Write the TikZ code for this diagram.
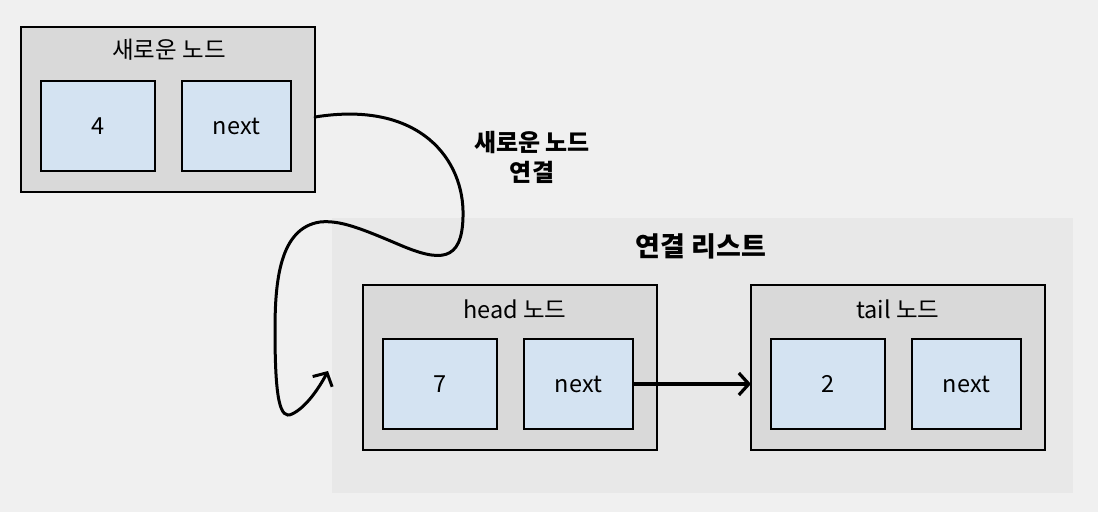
\documentclass[tikz,border=0pt]{standalone}
\usepackage{fontspec}
\setmainfont{Noto Sans CJK KR}
\usetikzlibrary{arrows.meta}
\definecolor{bg}{HTML}{F0F0F0}
\definecolor{panel}{HTML}{E8E8E8}
\definecolor{nodegray}{HTML}{D9D9D9}
\definecolor{cellblue}{HTML}{D4E3F2}
\tikzset{
  outerbox/.style={draw=black, line width=2pt, fill=nodegray},
  cellbox/.style={draw=black, line width=2pt, fill=cellblue, font=\fontsize{23.5}{27}\selectfont},
  titletxt/.style={font=\fontsize{23.5}{27}\selectfont, anchor=center},
  boldtxt/.style={font=\fontsize{24}{30}\selectfont\bfseries, align=center},
  bigbold/.style={font=\fontsize{27}{32}\selectfont\bfseries},
  link/.style={line width=3.5pt, -{Straight Barb[length=10pt, width=22pt, line width=3.2pt]}}
}
\begin{document}
\begin{tikzpicture}[x=1pt, y=-1pt]
\useasboundingbox (0,0) rectangle (1098,512);
\fill[bg] (0,0) rectangle (1098,512);
% linked list panel
\fill[panel] (332,218) rectangle (1073,493);
\node[bigbold] (ltitle) at (701,246) {연결 리스트};
% new node
\draw[outerbox] (21,27) rectangle (315,192);
\coordinate (nnright) at (315,117);
\node[titletxt] (nntitle) at (169,50) {새로운 노드};
\draw[cellbox] (41,81) rectangle (155,171) node[midway] (nnval) {4};
\draw[cellbox] (182,81) rectangle (291,171) node[midway] (nnnext) {next};
% head node
\draw[outerbox] (363,285) rectangle (657,450);
\node[titletxt] (htitle) at (515,309) {head 노드};
\draw[cellbox] (383,339) rectangle (497,429) node[midway] (hval) {7};
\draw[cellbox] (524,339) rectangle (633,429) node[midway] (hnext) {next};
\coordinate (hnextr) at (633,384);
% tail node
\draw[outerbox] (751,285) rectangle (1045,450);
\node[titletxt] (ttitle) at (898,309) {tail 노드};
\draw[cellbox] (771,339) rectangle (885,429) node[midway] (tval) {2};
\draw[cellbox] (912,339) rectangle (1021,429) node[midway] (tnext) {next};
\coordinate (tleft) at (751,384);
% arrow head.next -> tail
\draw[link] (hnextr) -- (tleft);
% label
\node[boldtxt] (clabel) at (532,157) {새로운 노드\\연결};
% curve
\coordinate (ctip) at (328,371);
\draw[line width=3pt, line cap=round, -{Straight Barb[length=10pt, width=22pt, line width=3pt]}]
  (nnright) .. controls (420,100) and (465,160) .. (463,217)
  .. controls (462,262) and (440,262) .. (400,245)
  .. controls (360,228) and (340,220) .. (320,222)
  .. controls (280,228) and (275,280) .. (275,330)
  .. controls (275,400) and (280,420) .. (292,414)
  .. controls (305,408) and (318,390) .. (ctip);
\end{tikzpicture}
\end{document}
